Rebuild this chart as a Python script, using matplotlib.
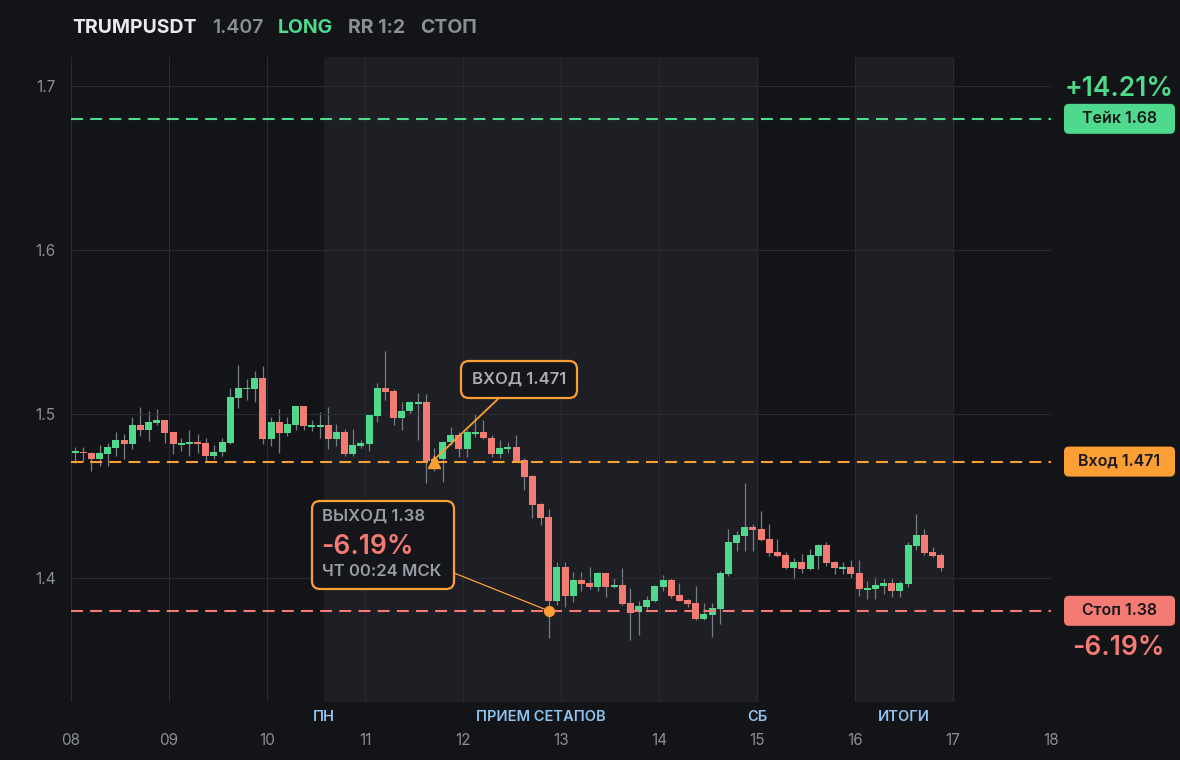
import numpy as np
import matplotlib
matplotlib.use("Agg")
import matplotlib.pyplot as plt
from matplotlib.patches import FancyBboxPatch
from matplotlib.lines import Line2D
from matplotlib.transforms import IdentityTransform

plt.rcParams['font.family'] = ['Inter', 'DejaVu Sans']
plt.rcParams['lines.scale_dashes'] = False

# 2h candles starting 08 00:00, x in days of month
start_day = 8
candle_hours = 2
opens = [1.4762, 1.4766, 1.4762, 1.4728, 1.4758, 1.4795, 1.4841, 1.4819, 1.4933, 1.4904,
         1.4947, 1.4963, 1.4890, 1.4811, 1.4819, 1.4829, 1.4823, 1.4746, 1.4768, 1.4825,
         1.5100, 1.5150, 1.5152, 1.5220, 1.4850, 1.4951, 1.4886, 1.4935, 1.5049, 1.4921,
         1.4921, 1.4933, 1.4850, 1.4890, 1.4758, 1.4807, 1.4819, 1.4988, 1.5159, 1.5140,
         1.4976, 1.5018, 1.5061, 1.5073, 1.4715, 1.4728, 1.4829, 1.4872, 1.4789, 1.4878,
         1.4890, 1.4856, 1.4758, 1.4789, 1.4799, 1.4719, 1.4622, 1.4451, 1.4372, 1.3862,
         1.4067, 1.3892, 1.3988, 1.3970, 1.3945, 1.4030, 1.3947, 1.3957, 1.3848, 1.3795,
         1.3825, 1.3862, 1.3947, 1.3990, 1.3898, 1.3868, 1.3850, 1.3752, 1.3776, 1.3813,
         1.4026, 1.4215, 1.4258, 1.4311, 1.4299, 1.4238, 1.4159, 1.4140, 1.4061, 1.4098,
         1.4055, 1.4134, 1.4201, 1.4098, 1.4055, 1.4067, 1.4030, 1.3927, 1.3933, 1.3951,
         1.3970, 1.3921, 1.3963, 1.4195, 1.4262, 1.4159, 1.4140]
highs = [1.4801, 1.4801, 1.4768, 1.4811, 1.4825, 1.4890, 1.4878, 1.4982, 1.5043, 1.5020,
         1.5030, 1.4963, 1.4890, 1.4854, 1.4902, 1.4878, 1.4854, 1.4811, 1.4854, 1.5161,
         1.5299, 1.5213, 1.5262, 1.5293, 1.4982, 1.5030, 1.4982, 1.5049, 1.5049, 1.4963,
         1.5012, 1.5043, 1.4939, 1.4909, 1.4909, 1.4841, 1.4994, 1.5189, 1.5384, 1.5150,
         1.5073, 1.5080, 1.5128, 1.5122, 1.4791, 1.4835, 1.4921, 1.4890, 1.4900, 1.5000,
         1.4963, 1.4870, 1.4841, 1.4830, 1.4872, 1.4730, 1.4630, 1.4460, 1.4421, 1.4098,
         1.4098, 1.4037, 1.4037, 1.4067, 1.4037, 1.4030, 1.4000, 1.4061, 1.3939, 1.3862,
         1.3892, 1.3959, 1.4020, 1.4000, 1.3970, 1.3875, 1.3953, 1.3850, 1.3848, 1.4040,
         1.4301, 1.4289, 1.4579, 1.4329, 1.4409, 1.4329, 1.4238, 1.4157, 1.4122, 1.4146,
         1.4177, 1.4207, 1.4220, 1.4105, 1.4098, 1.4110, 1.4110, 1.3982, 1.4006, 1.4000,
         1.4000, 1.3982, 1.4220, 1.4390, 1.4299, 1.4189, 1.4150]
lows = [1.4699, 1.4709, 1.4654, 1.4685, 1.4685, 1.4746, 1.4728, 1.4789, 1.4868, 1.4837,
        1.4933, 1.4821, 1.4758, 1.4776, 1.4746, 1.4764, 1.4715, 1.4728, 1.4746, 1.4819,
        1.5039, 1.5085, 1.5073, 1.4819, 1.4807, 1.4764, 1.4868, 1.4904, 1.4904, 1.4896,
        1.4854, 1.4789, 1.4807, 1.4746, 1.4746, 1.4790, 1.4775, 1.4951, 1.5085, 1.4933,
        1.4902, 1.5000, 1.4841, 1.4577, 1.4650, 1.4587, 1.4810, 1.4740, 1.4740, 1.4860,
        1.4850, 1.4740, 1.4730, 1.4760, 1.4710, 1.4537, 1.4368, 1.4323, 1.3636, 1.3833,
        1.3825, 1.3856, 1.3923, 1.3935, 1.3923, 1.3886, 1.3940, 1.3835, 1.3624, 1.3654,
        1.3810, 1.3855, 1.3923, 1.3880, 1.3860, 1.3825, 1.3746, 1.3745, 1.3642, 1.3722,
        1.4010, 1.4167, 1.4167, 1.4165, 1.4226, 1.4134, 1.4128, 1.4055, 1.3994, 1.4030,
        1.4050, 1.4055, 1.4073, 1.4024, 1.4024, 1.4000, 1.3890, 1.3872, 1.3872, 1.3902,
        1.3884, 1.3884, 1.3945, 1.4171, 1.4140, 1.4128, 1.4043]
closes = [1.4766, 1.4760, 1.4728, 1.4762, 1.4799, 1.4841, 1.4819, 1.4933, 1.4904, 1.4951,
          1.4963, 1.4886, 1.4819, 1.4823, 1.4829, 1.4819, 1.4746, 1.4768, 1.4829, 1.5104,
          1.5159, 1.5159, 1.5220, 1.4850, 1.4951, 1.4886, 1.4939, 1.5049, 1.4929, 1.4933,
          1.4933, 1.4850, 1.4890, 1.4758, 1.4811, 1.4823, 1.4994, 1.5159, 1.5134, 1.4976,
          1.5018, 1.5073, 1.5073, 1.4715, 1.4728, 1.4829, 1.4872, 1.4789, 1.4890, 1.4890,
          1.4856, 1.4758, 1.4793, 1.4799, 1.4715, 1.4618, 1.4447, 1.4368, 1.3862, 1.4067,
          1.3892, 1.3988, 1.3965, 1.3945, 1.4030, 1.3945, 1.3957, 1.3843, 1.3789, 1.3831,
          1.3868, 1.3953, 1.3990, 1.3892, 1.3862, 1.3843, 1.3752, 1.3783, 1.3819, 1.4033,
          1.4222, 1.4264, 1.4311, 1.4295, 1.4232, 1.4152, 1.4134, 1.4061, 1.4098, 1.4055,
          1.4140, 1.4201, 1.4091, 1.4061, 1.4067, 1.4024, 1.3933, 1.3939, 1.3957, 1.3970,
          1.3921, 1.3970, 1.4201, 1.4262, 1.4152, 1.4134, 1.4061]

symbol = "TRUMPUSDT"
last_price = "1.407"
take_price = 1.68
entry_price = 1.471
stop_price = 1.38
entry_idx = 44
exit_idx = 58
exit_time_label = "ЧТ 00:24 МСК"

# session bands (day units) and their captions
bands = [(10.5833, 15.0), (16.0, 17.0)]
section_labels = ["ПН", "ПРИЕМ СЕТАПОВ", "СБ", "ИТОГИ"]
section_x = [10.5833, 12.79, 15.0, 16.5]

BG = '#131418'
BAND = '#1e1f24'
GRID = '#2a2b30'
GREEN = '#4fd98c'
RED = '#f47a74'
ORANGE = '#fb9f35'
GREY = '#8c8e95'
WICK = '#7a7c83'
BLUE = '#8fc3f0'

W, H = 1180, 760
fig = plt.figure(figsize=(W / 100, H / 100), dpi=100, facecolor=BG)
ax = fig.add_axes([71 / W, 1 - 702 / H, (1051 - 71) / W, (702 - 57) / H])
ax.set_facecolor(BG)

o = np.array(opens); h = np.array(highs); l = np.array(lows); c = np.array(closes)
t = start_day + (np.arange(len(o)) + 0.5) * candle_hours / 24
step = candle_hours / 24
up = c >= o
colors = np.where(up, GREEN, RED)

for a, b in bands:
    ax.axvspan(a, b, color=BAND, zorder=0, lw=0)

ax.vlines(t, l, h, color=WICK, lw=0.9, zorder=2)
body_lo = np.minimum(o, c)
body_h = np.maximum(np.abs(c - o), 0.0011)
ax.bar(t, body_h, bottom=body_lo, width=step * 0.86, color=colors, zorder=3, lw=0)

dash = (0, (8.6, 5.2))
ax.axhline(take_price, color=GREEN, lw=1.5, ls=dash, zorder=4)
ax.axhline(entry_price, color=ORANGE, lw=1.5, ls=dash, zorder=4)
ax.axhline(stop_price, color=RED, lw=1.5, ls=dash, zorder=4)

ax.plot(t[entry_idx], entry_price, marker='^', ms=8, color=ORANGE, zorder=6, lw=0)
ax.plot(t[exit_idx], stop_price, marker='o', ms=7, color=ORANGE, zorder=6, lw=0)

ax.set_xlim(8, 18)
ax.set_ylim(1.3244, 1.7177)
ax.set_xticks(np.arange(8, 19))
ax.set_xticklabels([f"{d:02d}" for d in range(8, 19)])
ax.set_yticks([1.4, 1.5, 1.6, 1.7])
ax.set_yticklabels(["1.4", "1.5", "1.6", "1.7"])
ax.grid(True, color=GRID, lw=0.8, zorder=1)
ax.set_axisbelow(False)
for s in ax.spines.values():
    s.set_visible(False)
ax.tick_params(axis='x', length=0, colors=GREY, labelsize=11, pad=22)
ax.tick_params(axis='y', length=0, colors=GREY, labelsize=11, pad=11)

for lab, xs in zip(section_labels, section_x):
    ax.text(xs, -0.0233, lab, transform=ax.get_xaxis_transform(), ha='center', va='center',
            color=BLUE, fontsize=10.5, fontweight='semibold')

ID = IdentityTransform()


def to_px(x, y):
    dx, dy = ax.transData.transform((x, y))
    return dx, H - dy


def rbox(x0, y0, x1, y1, fc, ec=None, lw=0, r=6, z=10):
    p = FancyBboxPatch((x0, H - y1), x1 - x0, y1 - y0,
                       boxstyle=f"round,pad=0,rounding_size={r}", transform=ID,
                       facecolor=fc, edgecolor=ec if ec else fc, linewidth=lw,
                       clip_on=False, zorder=z)
    fig.add_artist(p)


def ptext(x, y, s, **kw):
    fig.text(x, H - y, s, transform=ID, **kw)


def pline(x0, y0, x1, y1, lw):
    fig.add_artist(Line2D([x0, x1], [H - y0, H - y1], transform=ID, color=ORANGE, lw=lw, zorder=9))


# header
hx = [72, 212, 278, 348, 420]
hsize = 14
ptext(hx[0], 28, symbol, color='#e9eaec', fontsize=hsize, fontweight='bold', va='center')
ptext(hx[1], 28, last_price, color=GREY, fontsize=hsize, fontweight='semibold', va='center')
ptext(hx[2], 28, "LONG", color=GREEN, fontsize=hsize, fontweight='bold', va='center')
ptext(hx[3], 28, "RR 1:2", color=GREY, fontsize=hsize, fontweight='bold', va='center')
ptext(hx[4], 28, "СТОП", color=GREY, fontsize=hsize, fontweight='bold', va='center')

# right side price tags
take_pct = (take_price - entry_price) / entry_price * 100
stop_pct = (stop_price - entry_price) / entry_price * 100
tags = [(take_price, GREEN, f"Тейк {take_price:.2f}"),
        (entry_price, ORANGE, f"Вход {entry_price:.3f}"),
        (stop_price, RED, f"Стоп {stop_price:.2f}")]
for price, col, lab in tags:
    _, py = to_px(18, price)
    rbox(1064, py - 15, 1175, py + 15, col, r=5)
    ptext(1119.5, py, lab, color='#16171b', fontsize=11.5, fontweight='semibold',
          ha='center', va='center', zorder=11)
_, py_take = to_px(18, take_price)
_, py_stop = to_px(18, stop_price)
ptext(1119.5, py_take - 30, f"+{take_pct:.2f}%", color=GREEN, fontsize=19,
      fontweight='semibold', ha='center', va='center')
ptext(1118, py_stop + 37, f"{stop_pct:.2f}%", color=RED, fontsize=19,
      fontweight='semibold', ha='center', va='center')

# entry callout
ex, ey = to_px(t[entry_idx], entry_price)
pline(ex + 2, ey - 4, 499, 398, 1.3)
rbox(461, 361, 577, 398, '#15161b', ORANGE, lw=1.6, r=8)
ptext(519, 379.5, f"ВХОД {entry_price:.3f}", color='#aaacb2', fontsize=12,
      fontweight='semibold', ha='center', va='center', zorder=11)

# exit callout
xx, xy = to_px(t[exit_idx], stop_price)
pline(454, 573, xx, xy, 0.9)
rbox(312, 501, 454, 589, '#15161b', ORANGE, lw=1.6, r=8)
ptext(322, 516.5, f"ВЫХОД {stop_price:.2f}", color='#9a9ca3', fontsize=12,
      fontweight='semibold', va='center', zorder=11)
ptext(321, 547, f"{stop_pct:.2f}%", color=RED, fontsize=19,
      fontweight='semibold', va='center', zorder=11)
ptext(322, 572, exit_time_label, color='#9a9ca3', fontsize=12,
      fontweight='semibold', va='center', zorder=11)

fig.savefig("out.png", dpi=100, facecolor=BG)
